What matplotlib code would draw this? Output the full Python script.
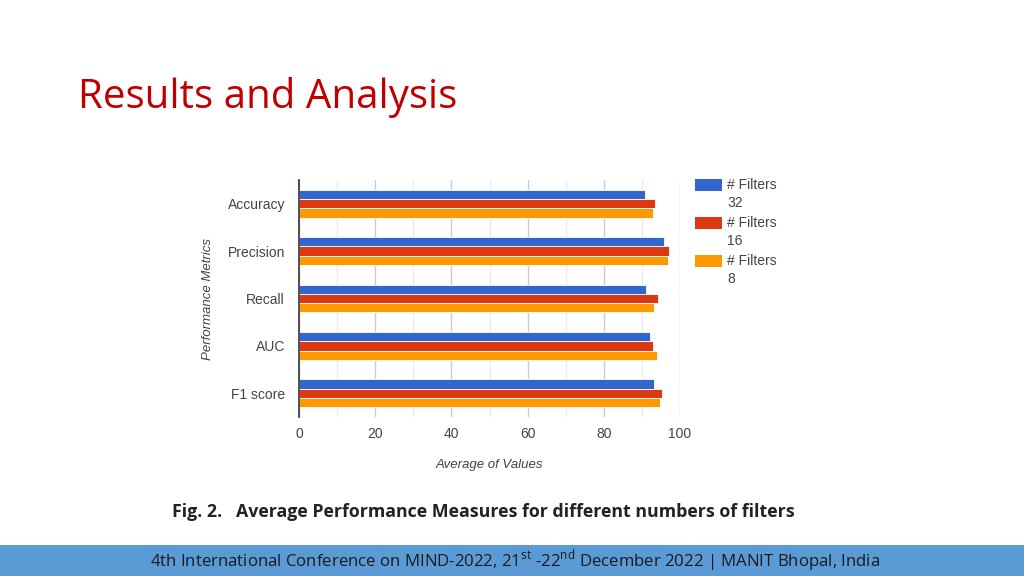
import numpy as np
import matplotlib
matplotlib.use("Agg")
import matplotlib.pyplot as plt
from matplotlib.patches import Rectangle

metrics = ["Accuracy", "Precision", "Recall", "AUC", "F1 score"]
filters32 = [90.8, 95.9, 91.1, 92.1, 93.2]
filters16 = [93.5, 97.1, 94.1, 92.9, 95.3]
filters8 = [92.9, 96.9, 93.3, 93.9, 94.8]
series_labels = ["# Filters\n32", "# Filters\n16", "# Filters\n8"]
colors = ["#3366CC", "#DC3912", "#FF9900"]

plt.rcParams["mathtext.fontset"] = "custom"
plt.rcParams["mathtext.rm"] = "Open Sans"

fig = plt.figure(figsize=(10.24, 5.76), dpi=100)
fig.patch.set_facecolor("white")

# slide title
fig.text(78 / 1024, 1 - 98 / 576, "Results and Analysis", color="#C00000",
         fontsize=29, family="Open Sans", va="center", ha="left")

# chart
ax = fig.add_axes([299 / 1024, 1 - 417 / 576, 381 / 1024, 237 / 576])
y = np.arange(len(metrics))
h = 0.196
for k, (vals, c, lab) in enumerate(zip([filters32, filters16, filters8], colors, series_labels)):
    ax.barh(y + (k - 1) * h, vals, height=h, color=c, edgecolor="white",
            linewidth=0.6, label=lab, zorder=3)

ax.set_xlim(0, 100)
ax.set_ylim(4.5, -0.5)
ax.set_xticks(np.arange(0, 101, 20))
ax.set_xticks(np.arange(10, 100, 20), minor=True)
ax.grid(axis="x", which="major", color="#CCCCCC", linewidth=1, zorder=0)
ax.grid(axis="x", which="minor", color="#EBEBEB", linewidth=1, zorder=0)
ax.set_yticks(y)
ax.set_yticklabels(metrics)
for s in ["top", "right", "bottom"]:
    ax.spines[s].set_visible(False)
ax.spines["left"].set_color("#333333")
ax.spines["left"].set_linewidth(1.2)
ax.spines["left"].set_zorder(4)
ax.tick_params(axis="both", which="both", length=0, labelsize=10, labelcolor="#444444")
ax.tick_params(axis="x", pad=7)
ax.tick_params(axis="y", pad=10)
for t in ax.get_xticklabels() + ax.get_yticklabels():
    t.set_family("Liberation Sans")
ax.set_xlabel("Average of Values", fontsize=9.5, style="italic", color="#444444",
              family="Liberation Sans", labelpad=13)
ax.set_ylabel("Performance Metrics", fontsize=9.5, style="italic", color="#444444",
              family="Liberation Sans", labelpad=10)

# legend, drawn by hand so the swatch sits beside the first text line
for k, (c, lab) in enumerate(zip(colors, series_labels)):
    top = 179 + k * 38
    fig.add_artist(Rectangle((695 / 1024, 1 - (top + 12) / 576), 27 / 1024, 12 / 576,
                             transform=fig.transFigure, facecolor=c, edgecolor="none"))
    fig.text(727 / 1024, 1 - (top - 1) / 576, lab, fontsize=10, family="Liberation Sans",
             color="#444444", ha="left", va="top", linespacing=1.4)

# caption
fig.text(483 / 1024, 1 - 512 / 576,
         "Fig. 2.   Average Performance Measures for different numbers of filters",
         fontsize=12.8, fontweight="bold", family="Open Sans", color="#222222",
         ha="center", va="center")

# footer
fig.add_artist(Rectangle((0, 0), 1, 31 / 576, transform=fig.transFigure,
                         facecolor="#5B9BD5", edgecolor="none"))
fig.text(515 / 1024, 1 - 561 / 576,
         "4th International Conference on MIND-2022, 21$^{\\mathrm{st}}$ -22$^{\\mathrm{nd}}$ December 2022 | MANIT Bhopal, India",
         fontsize=12.1, family="Open Sans", color="#1A1A1A", ha="center", va="center")

fig.savefig("out.png", dpi=100)
